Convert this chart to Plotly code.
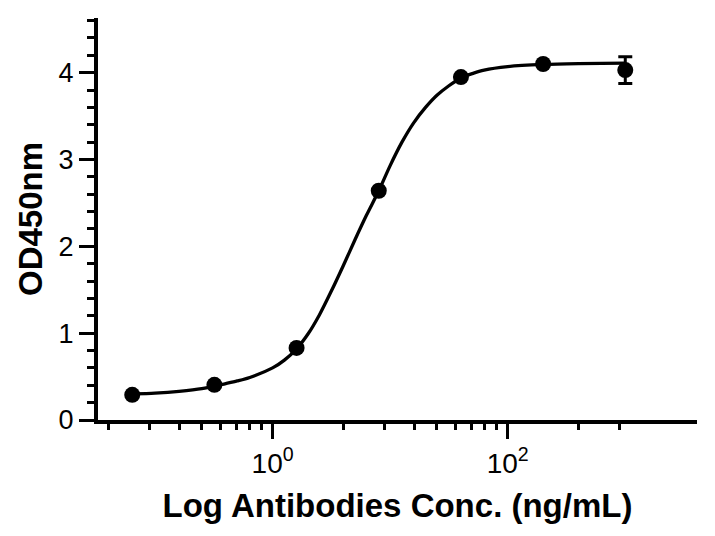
import plotly.graph_objects as go

# Measured points (ng/mL, OD450)
conc = [0.064, 0.32, 1.6, 8, 40, 200, 1000]
od = [0.29, 0.405, 0.83, 2.64, 3.95, 4.10, 4.03]
od_err = [0, 0, 0, 0, 0, 0, 0.155]

# Fitted curve (ng/mL, OD450)
curve_x = [0.064, 0.1, 0.16, 0.25, 0.4, 0.5, 0.64, 1.0, 1.26, 1.6, 2.0, 2.5,
           3.2, 4.0, 5.0, 6.3, 8.0, 10, 12.6, 15.8, 20, 25, 31.6, 40, 50,
           63, 100, 200, 400, 1000]
curve_y = [0.30, 0.31, 0.33, 0.36, 0.42, 0.45, 0.49, 0.60, 0.69, 0.82, 0.99, 1.21,
           1.50, 1.78, 2.07, 2.36, 2.64, 2.93, 3.20, 3.42, 3.60, 3.74, 3.85, 3.94, 3.99,
           4.03, 4.07, 4.095, 4.105, 4.11]

x_major = [1, 100]
x_major_text = ["10<sup>0</sup>", "10<sup>2</sup>"]
x_minor = [0.04, 0.09, 0.16, 0.25, 0.36, 0.49, 0.64, 0.81,
           4, 9, 16, 25, 36, 49, 64, 81, 400, 900]
y_major = [0, 1, 2, 3, 4]

FONT = "Liberation Sans, Arial, sans-serif"

fig = go.Figure()
fig.add_trace(go.Scatter(
    x=curve_x, y=curve_y, mode="lines",
    line=dict(color="black", width=3.3, shape="spline", smoothing=0.8),
    hoverinfo="skip", showlegend=False))
fig.add_trace(go.Scatter(
    x=conc, y=od, mode="markers",
    marker=dict(color="black", size=16),
    error_y=dict(type="data", array=od_err, visible=True, color="black",
                 thickness=3, width=7),
    showlegend=False))

# page has an 8px body margin, so the figure is 8px smaller than the window
fig.update_layout(
    width=707, height=528,
    margin=dict(l=90, r=18, t=10, b=116),
    paper_bgcolor="white", plot_bgcolor="white",
    font=dict(family=FONT, color="black", size=26),
    xaxis=dict(
        type="log", range=[-1.485, 3.61], automargin=False,
        showgrid=False, zeroline=False,
        showline=True, linewidth=4, linecolor="black",
        ticks="outside", ticklen=15, tickwidth=3, tickcolor="black",
        tickmode="array", tickvals=x_major, ticktext=x_major_text,
        tickfont=dict(size=28, family=FONT),
        minor=dict(tickmode="array", tickvals=x_minor, ticks="outside",
                   ticklen=6, tickwidth=3, tickcolor="black", showgrid=False),
        title=dict(text="<b>Log Antibodies Conc. (ng/mL)</b>",
                   font=dict(size=33, family=FONT), standoff=17),
    ),
    yaxis=dict(
        range=[0, 4.63], automargin=False,
        showgrid=False, zeroline=False,
        showline=True, linewidth=4, linecolor="black",
        ticks="outside", ticklen=15, tickwidth=3, tickcolor="black",
        tickmode="array", tickvals=y_major,
        tickfont=dict(size=27, family=FONT),
        minor=dict(dtick=0.2, tick0=0, ticks="outside",
                   ticklen=7, tickwidth=3, tickcolor="black", showgrid=False),
        title=dict(text="<b>OD450nm</b>", font=dict(size=33, family=FONT),
                   standoff=7),
    ),
)

fig.write_html("out.html")
